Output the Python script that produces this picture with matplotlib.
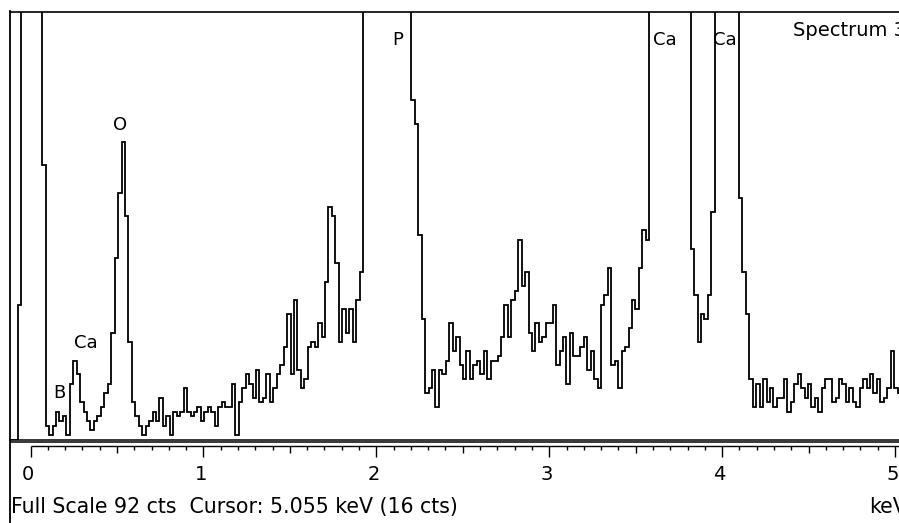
import numpy as np
import matplotlib
matplotlib.use('Agg')
import matplotlib.pyplot as plt
from matplotlib.lines import Line2D

W, H = 899, 523

# EDS spectrum, 20 eV channels (values above 92 are off scale)
start_kev = -0.112
channel_kev = 0.01995
counts = [
    0, 0, 29, 300, 800, 1200, 900, 500, 200, 59,
    3, 1, 3, 6, 4, 5, 1, 12, 17, 14,
    8, 6, 4, 2, 4, 5, 7, 10, 12, 23,
    39, 53, 64, 48, 21, 8, 5, 3, 1, 3,
    4, 6, 4, 9, 3, 5, 1, 6, 5, 6,
    11, 6, 5, 6, 7, 4, 6, 7, 6, 3,
    7, 8, 7, 7, 12, 1, 8, 11, 14, 12,
    9, 15, 8, 9, 14, 8, 11, 14, 16, 20,
    27, 14, 30, 15, 11, 13, 20, 21, 20, 25,
    22, 34, 50, 48, 38, 21, 28, 23, 28, 21,
    30, 36, 120, 300, 600, 900, 1100, 1000, 800, 600,
    400, 300, 200, 150, 110, 100, 73, 68, 44, 26,
    10, 11, 15, 7, 15, 14, 17, 25, 19, 22,
    16, 13, 19, 13, 16, 17, 14, 19, 13, 17,
    17, 18, 22, 29, 22, 30, 32, 43, 33, 36,
    23, 19, 25, 21, 22, 25, 25, 29, 16, 19,
    22, 12, 23, 18, 18, 20, 22, 15, 19, 13,
    11, 29, 31, 37, 16, 17, 11, 19, 20, 24,
    30, 28, 37, 45, 43, 150, 400, 800, 1200, 1400,
    1300, 1000, 700, 400, 250, 150, 100, 41, 31, 21,
    27, 26, 31, 49, 150, 300, 500, 500, 350, 200,
    110, 52, 36, 27, 13, 7, 12, 7, 13, 8,
    11, 7, 9, 9, 13, 6, 8, 12, 14, 11,
    9, 12, 7, 9, 6, 11, 13, 13, 8, 9,
    13, 12, 8, 11, 8, 7, 11, 13, 11, 14,
    10, 13, 8, 9, 11, 19, 11, 10,
]
full_scale = 92

peak_labels = ['B', 'Ca', 'O', 'P', 'Ca', 'Ca']
peak_kev = [0.130, 0.252, 0.477, 2.091, 3.600, 3.947]
peak_cts = [8.9, 19.7, 66.6, 84.9, 84.9, 84.9]

tick_values = [0, 1, 2, 3, 4, 5]
tick_labels = ['0', '1', '2', '3', '4', '5']
x_min, x_max = -0.1186, 5.023

edges = start_kev + channel_kev * np.arange(len(counts) + 1)


def px_box(left, top, right, bottom):
    return [left / W, 1 - bottom / H, (right - left) / W, (bottom - top) / H]


fig = plt.figure(figsize=(W / 100, H / 100), dpi=100)

ax = fig.add_axes(px_box(10, 12, 899, 439.5))
ax.stairs(counts, edges, baseline=None, color='black', lw=1.3)
ax.set_xlim(x_min, x_max)
ax.set_ylim(0, full_scale)
ax.set_xticks([])
ax.set_yticks([])
for side in ['left', 'right']:
    ax.spines[side].set_visible(False)
ax.spines['top'].set_linewidth(1.2)
ax.spines['bottom'].set_linewidth(1.1)

for lab, e, c in zip(peak_labels, peak_kev, peak_cts):
    ax.text(e, c, lab, fontsize=13, ha='left', va='baseline')
# the title runs off the right edge, as in the original screen grab
ax.text(4.41, 86.8, 'Spectrum 3', fontsize=14, ha='left', va='baseline')

# energy scale under the spectrum, y in pixel rows
sc = fig.add_axes(px_box(10, 439.5, 899, 523))
sc.set_xlim(x_min, x_max)
sc.set_ylim(523, 439.5)
sc.axis('off')
sc.hlines(442.2, x_min, x_max, color='black', lw=1.1)
sc.hlines(446, 0, x_max, color='black', lw=1.0)
for e in np.arange(0, 5.01, 0.1):
    if abs(e - round(e)) < 1e-6:
        end = 457
    elif abs(e * 2 - round(e * 2)) < 1e-6:
        end = 453
    else:
        end = 450
    sc.vlines(e, 446, end, color='black', lw=1.0)
for t, lab in zip(tick_values, tick_labels):
    sc.text(t - 0.015, 475, lab, fontsize=14, ha='center', va='center')
sc.text(x_min + 0.008, 513, 'Full Scale 92 cts  Cursor: 5.055 keV (16 cts)',
        fontsize=14.8, ha='left', va='baseline')
sc.text(4.85, 513, 'keV', fontsize=14.8, ha='left', va='baseline')

fig.add_artist(Line2D([10 / W, 10 / W], [0, 1 - 11 / H], transform=fig.transFigure,
                      color='black', lw=1.3))

fig.savefig('out.png', dpi=100)
